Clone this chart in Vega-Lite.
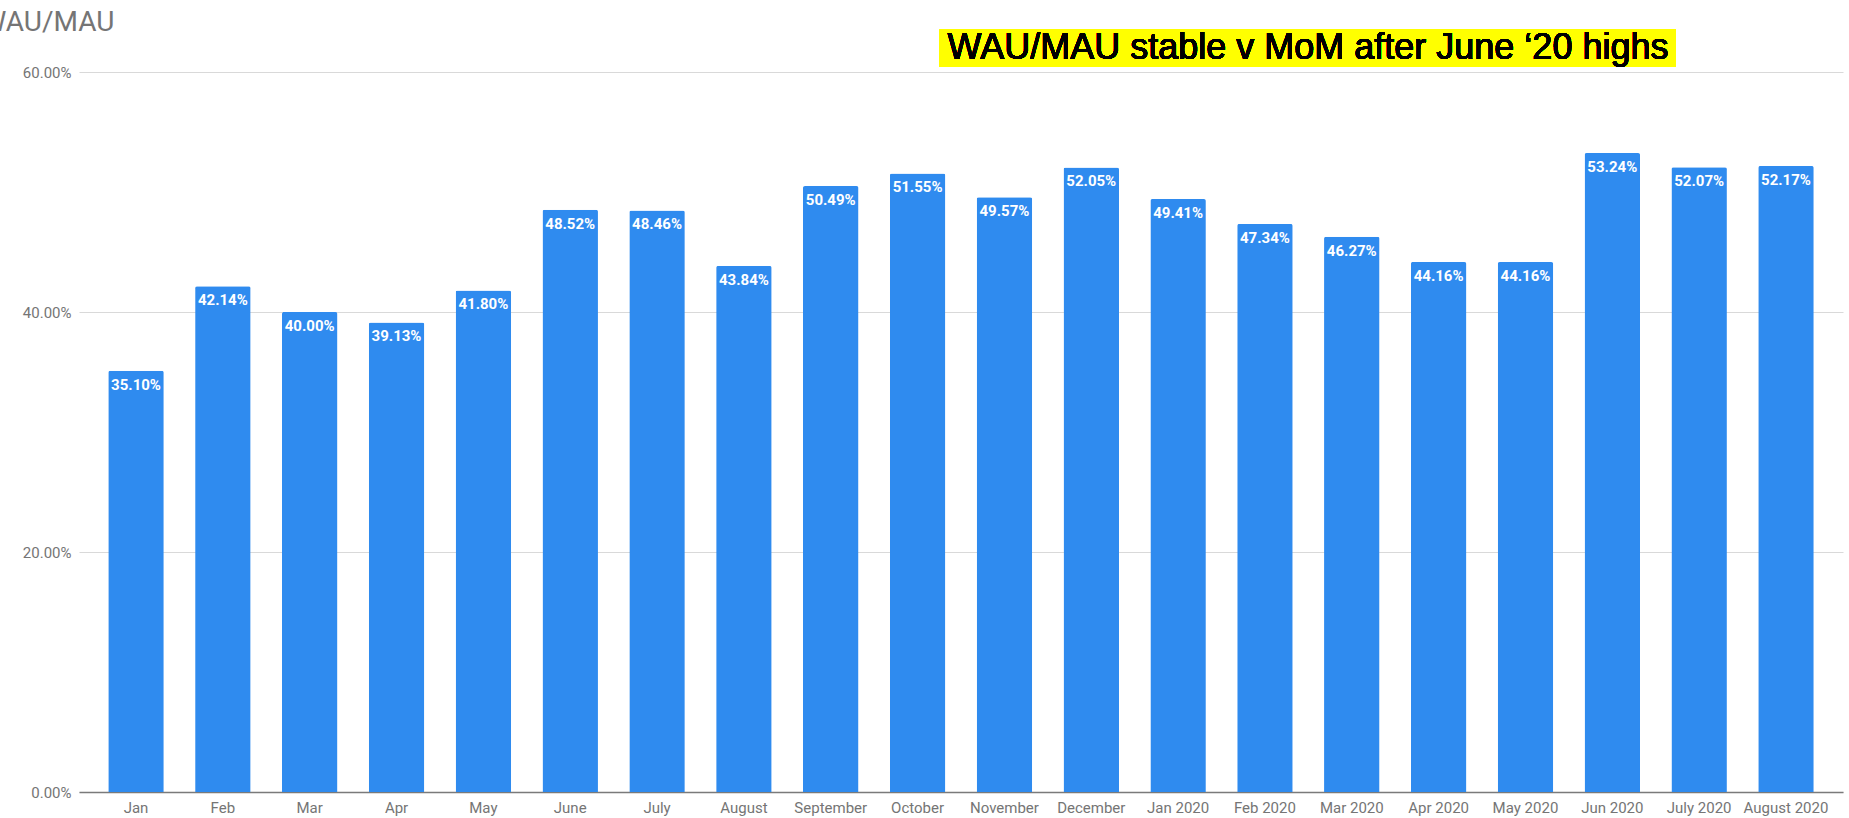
{
  "$schema": "https://vega.github.io/schema/vega-lite/v6.json",
  "width": 1764,
  "height": 720,
  "autosize": "none",
  "padding": {"left": 79, "top": 72, "right": 6, "bottom": 26},
  "background": "white",
  "config": {"view": {"stroke": null}},
  "data": {
    "values": [
      {"month": "Jan", "value": 0.3510},
      {"month": "Feb", "value": 0.4214},
      {"month": "Mar", "value": 0.4000},
      {"month": "Apr", "value": 0.3913},
      {"month": "May", "value": 0.4180},
      {"month": "June", "value": 0.4852},
      {"month": "July", "value": 0.4846},
      {"month": "August", "value": 0.4384},
      {"month": "September", "value": 0.5049},
      {"month": "October", "value": 0.5155},
      {"month": "November", "value": 0.4957},
      {"month": "December", "value": 0.5205},
      {"month": "Jan 2020", "value": 0.4941},
      {"month": "Feb 2020", "value": 0.4734},
      {"month": "Mar 2020", "value": 0.4627},
      {"month": "Apr 2020", "value": 0.4416},
      {"month": "May 2020", "value": 0.4416},
      {"month": "Jun 2020", "value": 0.5324},
      {"month": "July 2020", "value": 0.5207},
      {"month": "August 2020", "value": 0.5217}
    ]
  },
  "encoding": {
    "x": {
      "field": "month",
      "type": "nominal",
      "sort": null,
      "scale": {
        "domain": ["Jan", "Feb", "Mar", "Apr", "May", "June", "July", "August", "September", "October", "November", "December", "Jan 2020", "Feb 2020", "Mar 2020", "Apr 2020", "May 2020", "Jun 2020", "July 2020", "August 2020"],
        "paddingInner": 0.361,
        "paddingOuter": 0.337
      },
      "axis": {
        "title": null,
        "labelAngle": 0,
        "labelFont": "Roboto",
        "labelFontSize": 15,
        "labelColor": "#757575",
        "labelPadding": 8,
        "ticks": false,
        "domainColor": "#7a7a7a",
        "domainWidth": 1.5,
        "grid": false
      }
    },
    "y": {
      "field": "value",
      "type": "quantitative",
      "scale": {"domain": [0, 0.6], "nice": false},
      "axis": {
        "title": "WAU/MAU",
        "titleAngle": 0,
        "titleAlign": "left",
        "titleBaseline": "alphabetic",
        "titleX": -98,
        "titleY": -42,
        "titleFont": "Roboto",
        "titleFontSize": 28,
        "titleFontWeight": "normal",
        "titleColor": "#757575",
        "values": [0, 0.2, 0.4, 0.6],
        "format": ".2%",
        "domain": false,
        "ticks": false,
        "grid": true,
        "gridColor": "#d9d9d9",
        "gridWidth": 1,
        "labelFont": "Roboto",
        "labelFontSize": 15,
        "labelColor": "#757575",
        "labelPadding": 8
      }
    }
  },
  "layer": [
    {
      "mark": {"type": "bar", "color": "#2f8bef", "cornerRadiusTopLeft": 2, "cornerRadiusTopRight": 2}
    },
    {
      "mark": {"type": "text", "color": "white", "font": "Roboto", "fontSize": 15, "fontWeight": "bold", "align": "center", "baseline": "alphabetic", "dy": 19},
      "encoding": {"text": {"field": "value", "type": "quantitative", "format": ".2%"}}
    },
    {
      "mark": {"type": "rect", "color": "#ffff00", "opacity": 1},
      "encoding": {
        "x": {"datum": "October", "type": "nominal", "bandPosition": 0.9},
        "x2": {"datum": "July 2020", "bandPosition": 0.08},
        "y": {"datum": 0.6354, "type": "quantitative"},
        "y2": {"datum": 0.6042}
      }
    },
    {
      "mark": {"type": "text", "color": "black", "font": "Liberation Sans", "fontSize": 36, "align": "center", "baseline": "alphabetic"},
      "encoding": {
        "x": {"datum": "Feb 2020", "type": "nominal", "bandPosition": 1.276},
        "y": {"datum": 0.6112, "type": "quantitative"},
        "text": {"value": "WAU/MAU stable v MoM after June ‘20 highs"}
      }
    }
  ]
}
